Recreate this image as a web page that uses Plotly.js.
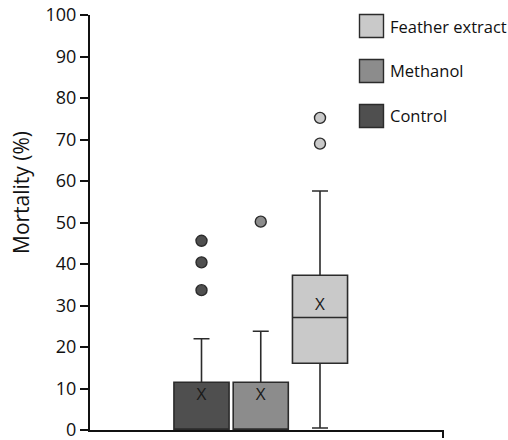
<!DOCTYPE html>
<html>
<head>
<meta charset="utf-8">
<script src="https://cdn.plot.ly/plotly-3.0.1.min.js"></script>
<style>
  html, body { margin: 0; padding: 0; background: #fff; }
  #chart { width: 508px; height: 440px; }
</style>
</head>
<body>
<div id="chart"></div>
<script>
// ---- data ----
const groups      = ["Control", "Methanol", "Feather extract"];
const q1          = [0, 0, 16.1];
const medians     = [0, 0, 27.1];
const q3          = [11.5, 11.5, 37.3];
const lowerFences = [0, 0, 0.5];
const upperFences = [22.0, 23.8, 57.6];
const means       = [8.2, 8.2, 29.9];
const outliersControl  = [33.7, 40.4, 45.6];
const outliersMethanol = [50.2];
const outliersFeather  = [69.0, 75.2];
const legendOrder = ["Feather extract", "Methanol", "Control"];
const yTicks      = [0, 10, 20, 30, 40, 50, 60, 70, 80, 90, 100];
const yTitle      = "Mortality (%)";

// ---- styles ----
const fills = { "Control": "#4f4f4f", "Methanol": "#8c8c8c", "Feather extract": "#c9c9c9" };
const edge = "#2b2b2b";
const FONT = "Open Sans, Noto Sans, sans-serif";

const outlierMap = { "Control": outliersControl, "Methanol": outliersMethanol, "Feather extract": outliersFeather };

const traces = [];
groups.forEach((g, i) => {
  traces.push({
    type: "box",
    x: [g],
    q1: [q1[i]], median: [medians[i]], q3: [q3[i]],
    lowerfence: [lowerFences[i]], upperfence: [upperFences[i]],
    boxpoints: false,
    width: 0.93,
    whiskerwidth: 0.29,
    fillcolor: fills[g],
    line: { color: edge, width: 1.6 },
    showlegend: false,
    hoverinfo: "skip"
  });
  const outs = outlierMap[g];
  traces.push({
    type: "scatter", mode: "markers",
    x: outs.map(() => g), y: outs,
    marker: { size: 11, color: fills[g], line: { color: edge, width: 1.4 } },
    showlegend: false, hoverinfo: "skip"
  });
});
// mean markers "X"
traces.push({
  type: "scatter", mode: "text",
  x: groups, y: means,
  text: groups.map(() => "X"),
  textposition: "middle center",
  textfont: { family: FONT, size: 17, color: "#1a1a1a" },
  showlegend: false, hoverinfo: "skip"
});

// custom legend (layout shapes + annotations)
const shapes = [];
const annotations = [];
const plotTop = 15, plotH = 415, plotLeft = 90, plotW = 353;
const toPaperY = px => 1 - (px - plotTop) / plotH;
const toPaperX = px => (px - plotLeft) / plotW;
legendOrder.forEach((g, k) => {
  const yTopPx = 14.5 + k * 45;
  const yBotPx = yTopPx + 23;
  shapes.push({
    type: "rect", xref: "paper", yref: "paper",
    x0: toPaperX(359.5), x1: toPaperX(383.5),
    y0: toPaperY(yBotPx), y1: toPaperY(yTopPx),
    fillcolor: fills[g], line: { color: edge, width: 1.4 }
  });
  annotations.push({
    xref: "paper", yref: "paper",
    x: toPaperX(387.5), y: toPaperY((yTopPx + yBotPx) / 2),
    xanchor: "left", yanchor: "middle",
    text: g, showarrow: false,
    font: { family: FONT, size: 16.5, color: "#111" }
  });
});
// y-axis title (placed like the reference, above the axis centre)
annotations.push({
  xref: "paper", yref: "paper",
  x: toPaperX(21), y: toPaperY(193),
  xanchor: "center", yanchor: "middle",
  text: yTitle, textangle: -90, showarrow: false,
  font: { family: FONT, size: 21, color: "#111" }
});
// right-end tick of the x axis
shapes.push({
  type: "line", xref: "paper", yref: "paper",
  x0: 1, x1: 1, y0: 0, y1: -8 / plotH,
  line: { color: "#111", width: 2 }
});

const layout = {
  width: 508, height: 440,
  margin: { l: plotLeft, r: 508 - plotLeft - plotW, t: plotTop, b: 440 - plotTop - plotH },
  paper_bgcolor: "#fff", plot_bgcolor: "#fff",
  showlegend: false,
  font: { family: FONT, color: "#111" },
  xaxis: {
    type: "category",
    categoryorder: "array", categoryarray: groups,
    range: [-1.882, 4.076],
    showticklabels: false, ticks: "",
    showgrid: false, zeroline: false,
    showline: true, linecolor: "#111", linewidth: 2
  },
  yaxis: {
    range: [0, 100],
    tickvals: yTicks,
    ticks: "outside", ticklen: 8, tickwidth: 2, tickcolor: "#111",
    ticklabeloverflow: "allow",
    showgrid: false, zeroline: false,
    showline: true, linecolor: "#111", linewidth: 2,
    tickfont: { family: FONT, size: 18, color: "#111" }
  },
  shapes: shapes,
  annotations: annotations
};

Plotly.newPlot("chart", traces, layout, { staticPlot: true, displayModeBar: false });
</script>
</body>
</html>
